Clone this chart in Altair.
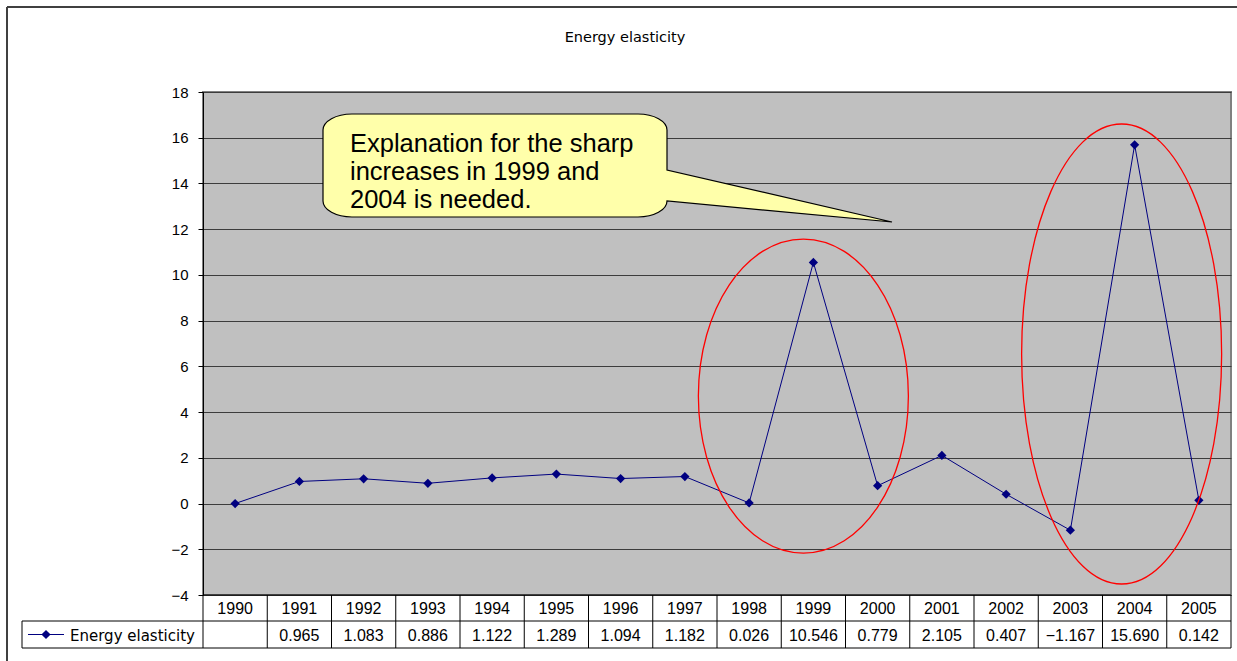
import altair as alt
import pandas as pd

# ---- data -----------------------------------------------------------------
series_name = "Energy elasticity"
years = [str(y) for y in range(1990, 2006)]
elasticity = [None, 0.965, 1.083, 0.886, 1.122, 1.289, 1.094, 1.182,
              0.026, 10.546, 0.779, 2.105, 0.407, -1.167, 15.690, 0.142]
y_ticks = list(range(-4, 19, 2))

# highlighted spikes: year, centre value, half-width px, half-height px, x shift px
spike_years = ["1999", "2004"]
spike_centres = [4.70, 6.54]
spike_rx = [105, 100]
spike_ry = [157, 230]
spike_dx = [-10, -13]

note_lines = ["Explanation for the sharp", "increases in 1999 and", "2004 is needed."]

# ---- layout ---------------------------------------------------------------
W, H = 1028, 503                      # plot area
ROW1_TOP, ROW2_TOP, TABLE_BOTTOM = H, H + 26, H + 53
LEGEND_LEFT = -181
NAVY = "#000080"
NUM_FONT = "Liberation Sans Narrow, Liberation Sans, sans-serif"
TXT_FONT = "DejaVu Sans"
K = 0.5523                            # bezier constant for quarter ellipses

df = pd.DataFrame({"year": years, "elasticity": elasticity})
df["plotted"] = df["elasticity"].fillna(0.0)   # blank cell is charted at zero
df["label"] = ["" if v is None else f"{v:.3f}".replace("-", "\u2212") for v in elasticity]

one = pd.DataFrame({"k": [0]})


def ellipse_path(a):
    """Unit-height ellipse (half-width a) as a symbol path."""
    r = lambda v: f"{v:.4f}"
    return (f"M{r(a)},0 C{r(a)},{r(K)} {r(a*K)},1 0,1 "
            f"C{r(-a*K)},1 {r(-a)},{r(K)} {r(-a)},0 "
            f"C{r(-a)},{r(-K)} {r(-a*K)},-1 0,-1 "
            f"C{r(a*K)},-1 {r(a)},{r(-K)} {r(a)},0 Z")


def callout_path(hw, hh, rx, ry, tail_top, tip, scale):
    """Rounded callout box with a tail on its right side, in symbol units."""
    pts = [
        ("M", [(-hw + rx, -hh)]),
        ("L", [(hw - rx, -hh)]),
        ("C", [(hw - rx + rx * K, -hh), (hw, -hh + ry - ry * K), (hw, -hh + ry)]),
        ("L", [(hw, tail_top)]),
        ("L", [tip]),
        ("L", [(hw, hh - ry)]),
        ("C", [(hw, hh - ry + ry * K), (hw - rx + rx * K, hh), (hw - rx, hh)]),
        ("L", [(-hw + rx, hh)]),
        ("C", [(-hw + rx - rx * K, hh), (-hw, hh - ry + ry * K), (-hw, hh - ry)]),
        ("L", [(-hw, -hh + ry)]),
        ("C", [(-hw, -hh + ry - ry * K), (-hw + rx - rx * K, -hh), (-hw + rx, -hh)]),
    ]
    out = []
    for cmd, coords in pts:
        out.append(cmd + " ".join(f"{x / scale:.4f},{y / scale:.4f}" for x, y in coords))
    return " ".join(out) + " Z"


x_scale = alt.Scale(type="band", paddingInner=0, paddingOuter=0)
y_scale = alt.Scale(domain=[-4, 18], nice=False, zero=False)
x_enc = alt.X("year:O", sort=years, scale=x_scale, axis=None)

y_axis = alt.Axis(values=y_ticks, grid=True, gridColor="#3c3c3c", gridWidth=1,
                  tickSize=5, tickColor="black", domainColor="black", domainWidth=1,
                  labelFont=NUM_FONT, labelFontSize=15, labelColor="black",
                  labelPadding=10, format="d", title=None)


def y_enc(field):
    return alt.Y(field, scale=y_scale, axis=y_axis, title=None)


base = alt.Chart(df)

line = base.mark_line(color=NAVY, strokeWidth=1).encode(x=x_enc, y=y_enc("plotted:Q"))

points = base.mark_point(shape="diamond", filled=True, color=NAVY, size=85,
                         opacity=1).encode(x=x_enc, y=y_enc("plotted:Q"))

# red ellipses around the spikes
ellipses = []
for yr, yc, rx, ry, dx in zip(spike_years, spike_centres, spike_rx, spike_ry, spike_dx):
    d = pd.DataFrame({"year": [yr], "plotted": [yc]})
    ellipses.append(
        alt.Chart(d).mark_point(shape=ellipse_path(rx / ry), size=(2 * ry) ** 2,
                                filled=False, stroke="#ff0000", strokeWidth=1.3,
                                opacity=1, xOffset=dx)
        .encode(x=x_enc, y=y_enc("plotted:Q"))
    )

# speech-bubble note
S = 100
bubble = alt.Chart(one).mark_point(
    shape=callout_path(172, 51.5, 29, 16, 4.5, (397, 56.5), S), size=(2 * S) ** 2,
    filled=True, fill="#ffffaa", stroke="black", strokeWidth=1.2, opacity=1
).encode(x=alt.value(292), y=alt.value(73.5))

bubble_text = alt.Chart(one).mark_text(
    font="Liberation Sans", fontSize=25.5, align="left", baseline="alphabetic",
    lineHeight=28.3, color="black"
).encode(x=alt.value(147), y=alt.value(59.7), text=alt.value(note_lines))

title = alt.Chart(one).mark_text(font=TXT_FONT, fontSize=14.5, color="black",
                                 align="center", baseline="middle").encode(
    x=alt.value(422), y=alt.value(-54), text=alt.value(series_name))

# ---- data table below the plot -------------------------------------------
year_text = base.mark_text(font=NUM_FONT, fontSize=16, color="black",
                           baseline="middle").encode(
    x=x_enc, y=alt.value((ROW1_TOP + ROW2_TOP) / 2 + 1), text="year:N")

value_text = base.mark_text(font=NUM_FONT, fontSize=16, color="black",
                            baseline="middle").encode(
    x=x_enc, y=alt.value((ROW2_TOP + TABLE_BOTTOM) / 2 + 1), text="label:N")

col_rules = base.mark_rule(color="black", strokeWidth=1).encode(
    x=alt.X("year:O", sort=years, scale=x_scale, axis=None, bandPosition=0),
    y=alt.value(ROW1_TOP), y2=alt.value(TABLE_BOTTOM))


def rule(**enc):
    return alt.Chart(one).mark_rule(color=enc.pop("color", "black"),
                                    strokeWidth=enc.pop("sw", 1)).encode(
        **{k: alt.value(v) for k, v in enc.items()})


table_rules = [
    rule(x=W, y=ROW1_TOP, y2=TABLE_BOTTOM),
    rule(x=0, x2=W, y=ROW1_TOP),
    rule(x=LEGEND_LEFT, x2=W, y=ROW2_TOP),
    rule(x=LEGEND_LEFT, x2=W, y=TABLE_BOTTOM),
    rule(x=LEGEND_LEFT, y=ROW2_TOP, y2=TABLE_BOTTOM),
]

legend_y = (ROW2_TOP + TABLE_BOTTOM) / 2
legend_line = rule(x=-175, x2=-139, y=legend_y, color=NAVY)
legend_mark = alt.Chart(one).mark_point(shape="diamond", filled=True, color=NAVY,
                                        size=85, opacity=1).encode(
    x=alt.value(-157), y=alt.value(legend_y))
legend_label = alt.Chart(one).mark_text(font=TXT_FONT, fontSize=15, color="black",
                                        align="left", baseline="middle").encode(
    x=alt.value(-133), y=alt.value(legend_y + 1), text=alt.value(series_name))

# outer chart frame
frame = [
    rule(x=-196, y=-85, y2=569, color="#404040", sw=2),
    rule(x=-196, x2=1034, y=-85, color="#404040", sw=2),
]

chart = alt.layer(
    line, points, *ellipses, bubble, bubble_text, title,
    col_rules, *table_rules, year_text, value_text,
    legend_line, legend_mark, legend_label, *frame
).properties(
    width=W, height=H,
    autosize=alt.AutoSizeParams(type="none"),
    padding={"left": 203, "top": 92, "right": 6, "bottom": 66},
    background="white",
).configure_view(fill="#c0c0c0", stroke="#808080", strokeWidth=2)

chart.save("out.html", embed_options={"renderer": "svg", "actions": False})
